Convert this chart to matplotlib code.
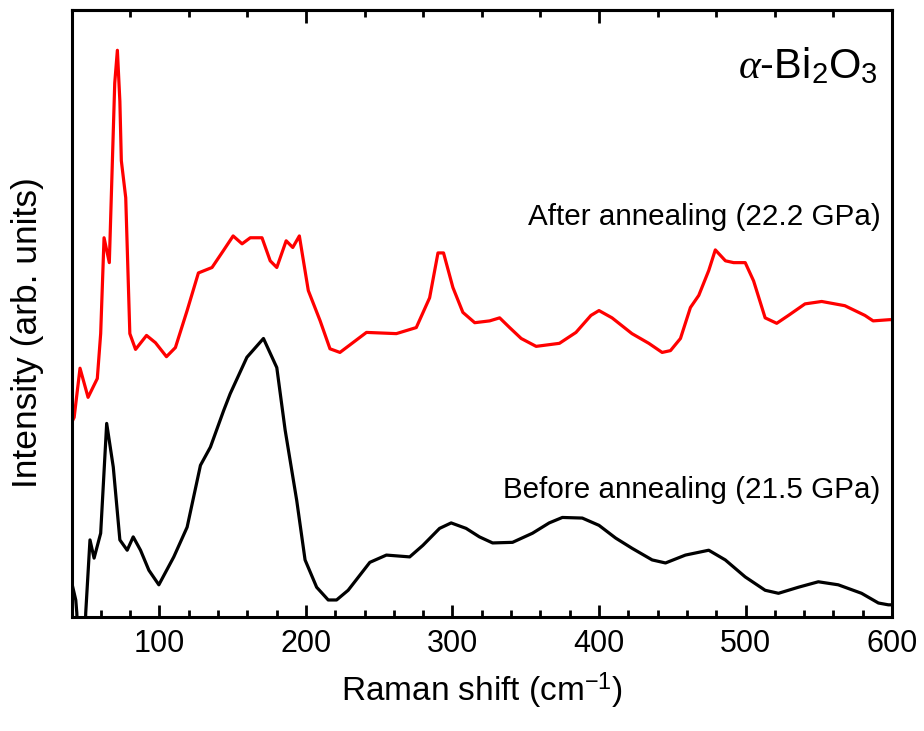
import matplotlib.pyplot as plt
from matplotlib.ticker import MultipleLocator, NullFormatter

plt.rcParams['font.family'] = ['Liberation Sans', 'DejaVu Sans']
plt.rcParams['mathtext.fontset'] = 'custom'
plt.rcParams['mathtext.rm'] = 'Liberation Sans'
plt.rcParams['mathtext.it'] = 'Liberation Serif:italic'

# after annealing (22.2 GPa)
after_x = [40, 41.8, 45.8, 51.3, 57.6, 59.9, 62.2, 65.8, 69.5, 71.3, 73.0, 74.0, 77.0, 79.8, 83.7,
           91.2, 97.3, 104.8, 110.9, 118.9, 126.6, 135.9, 143.7, 150.3, 156.4, 162.0,
           170, 175.6, 180.1, 186.5, 191, 195.5, 201.6, 209.7, 216.4, 223.2, 241.3,
           261.7, 275.3, 284.4, 290.1, 293.9, 300.3, 307.1, 315.2, 325.4, 332.2, 339,
           346.9, 357.1, 373, 384.3, 394.5, 400, 408.9, 422.5, 434, 443.1, 448.8, 455.6,
           462.4, 468.1, 474.9, 479.4, 486.3, 491.9, 499.8, 505.5, 513.4, 521.3, 529.3,
           540.6, 552, 567.8, 581.5, 587.1, 598.4, 600]
after_y = [32.0, 32.9, 41.0, 36.2, 39.3, 46.7, 62.5, 58.4, 88.0, 93.4, 85.0, 75.2, 69.1, 46.7, 44.1,
           46.4, 45.2, 42.9, 44.4, 50.5, 56.7, 57.6, 60.4, 62.8, 61.5, 62.5,
           62.5, 58.7, 57.6, 62.0, 60.9, 62.8, 53.8, 48.8, 44.2, 43.6, 46.9,
           46.7, 47.7, 52.6, 60.0, 60.0, 54.3, 50.2, 48.5, 48.8, 49.3, 47.7,
           45.9, 44.6, 45.1, 46.9, 49.7, 50.5, 49.3, 46.7, 45.1, 43.6, 43.9, 45.9,
           51.0, 53.0, 57.1, 60.5, 58.7, 58.4, 58.4, 55.4, 49.3, 48.4, 49.7,
           51.6, 52.0, 51.3, 49.7, 48.8, 49.0, 49.0]

# before annealing (21.5 GPa)
before_x = [40, 42.9, 43.6, 44.5, 49, 49.7, 52.6, 55.4, 59.9, 64, 68.5, 73, 78, 82.1,
            87.1, 92.8, 99.6, 109.8, 118.9, 128, 134.8, 143.8, 148.3, 159.7, 171, 180.1,
            185.8, 193.7, 199.4, 207.3, 215.2, 220.9, 228.8, 243.6, 254.9, 270.8, 279.8,
            291.2, 299.1, 309.3, 318.4, 327.4, 341, 354.6, 366, 375, 388.6, 400, 411.4,
            422.7, 436.3, 445.4, 459, 474.9, 486.2, 499.8, 513.4, 522.5, 536.1, 549.7,
            563.3, 579.2, 590.7, 597.5, 600]
before_y = [5.8, 2.8, 0.7, -5, -5, 0.7, 12.7, 9.7, 13.8, 31.9, 24.7, 12.7, 11.0, 13.2,
            11.0, 7.7, 5.3, 9.9, 14.8, 25.0, 28.0, 34.0, 36.8, 42.8, 45.9, 41.1,
            30.8, 19.2, 9.4, 4.9, 2.8, 2.8, 4.4, 9.0, 10.2, 9.9, 11.8,
            14.6, 15.5, 14.6, 13.2, 12.2, 12.3, 13.8, 15.5, 16.4, 16.3, 15.1, 13.0,
            11.3, 9.4, 8.9, 10.2, 11.0, 9.4, 6.6, 4.4, 3.9, 4.9, 5.8,
            5.3, 3.9, 2.3, 2.0, 2.0]

fig = plt.figure(figsize=(9.24, 7.31), dpi=100)
ax = fig.add_axes([0.0774, 0.156, 0.888, 0.830])

ax.plot(after_x, after_y, color='#ff0000', lw=2.3)
ax.plot(before_x, before_y, color='black', lw=2.3)

ax.set_xlim(40, 600)
ax.set_ylim(0, 100)

for s in ax.spines.values():
    s.set_linewidth(2.2)

ax.xaxis.set_major_locator(MultipleLocator(100))
ax.xaxis.set_minor_locator(MultipleLocator(20))
ax.tick_params(axis='x', which='major', direction='in', length=9, width=2, labelsize=22, pad=9)
ax.tick_params(axis='x', which='minor', direction='in', length=5, width=2)
ax.set_yticks([])

top = ax.secondary_xaxis('top')
top.xaxis.set_major_locator(MultipleLocator(200))
top.xaxis.set_minor_locator(MultipleLocator(40))
top.xaxis.set_major_formatter(NullFormatter())
top.tick_params(which='major', direction='in', length=9, width=2)
top.tick_params(which='minor', direction='in', length=5, width=2)
top.spines['top'].set_linewidth(2.2)

ax.set_xlabel('Raman shift (cm$^{-1}$)', fontsize=24, labelpad=8)
ax.set_ylabel('Intensity (arb. units)', fontsize=25.5)
ax.yaxis.set_label_coords(-0.034, 0.468)

ax.text(592, 66, 'After annealing (22.2 GPa)', fontsize=21.3, ha='right', va='center')
ax.text(592, 21, 'Before annealing (21.5 GPa)', fontsize=21.3, ha='right', va='center')
ax.text(590, 88.8, r'$\alpha$-Bi$_2$O$_3$', fontsize=30, ha='right', va='baseline')

fig.savefig('out.png', dpi=100)
